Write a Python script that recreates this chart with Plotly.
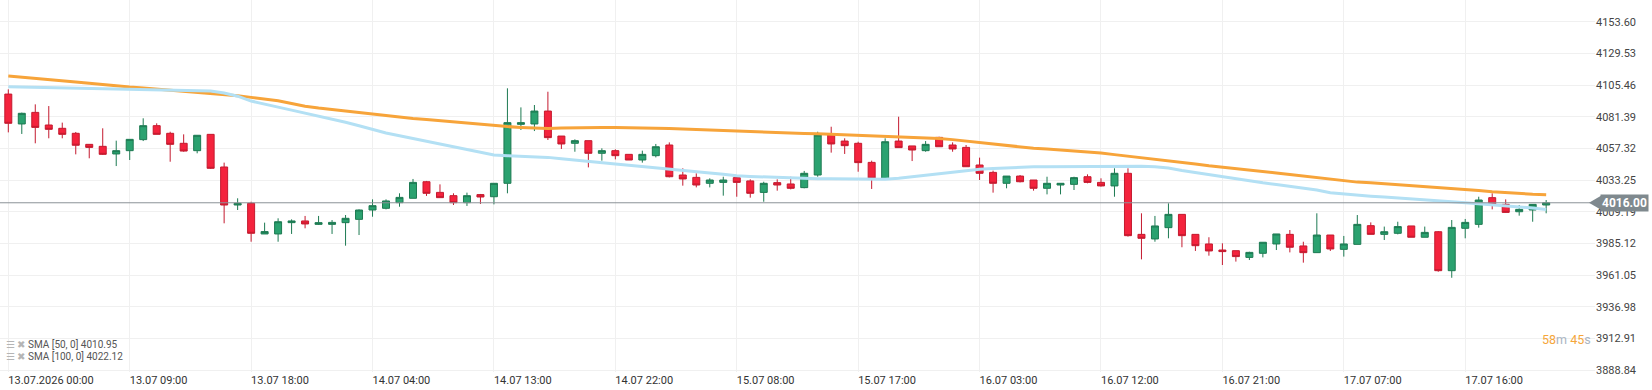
import plotly.graph_objects as go
import pandas as pd

# ---- data ----
open_ = [4098.6, 4075.9, 4084.7, 4075.1, 4072.6, 4068.8, 4060.4, 4058.9, 4053.1, 4055.6,
         4064.0, 4074.6, 4068.8, 4061.2, 4055.6, 4068.0, 4043.2, 4014.3, 4015.6, 3992.3,
         3992.3, 4000.9, 4002.2, 3999.6, 3999.6, 4000.9, 4003.4, 4010.5, 4011.8, 4016.1,
         4019.4, 4032.0, 4023.9, 4021.4, 4016.1, 4022.2, 4020.6, 4030.8, 4075.6, 4075.9,
         4085.7, 4066.7, 4061.2, 4063.2, 4053.6, 4055.6, 4052.8, 4048.5, 4051.8, 4059.9,
         4037.1, 4035.3, 4030.8, 4031.5, 4035.1, 4032.6, 4023.9, 4031.3, 4030.3, 4027.5,
         4037.1, 4067.5, 4062.9, 4061.2, 4046.7, 4034.1, 4062.9, 4059.2, 4055.6, 4065.7,
         4059.9, 4058.1, 4044.7, 4039.1, 4030.8, 4036.3, 4033.3, 4027.0, 4029.5, 4030.0,
         4035.8, 4031.5, 4028.8, 4038.4, 3992.0, 3988.5, 3997.1, 4007.2, 3992.0, 3984.7,
         3980.1, 3979.6, 3974.5, 3977.6, 3984.7, 3992.0, 3983.2, 3978.1, 3991.5, 3980.6,
         3984.4, 3998.6, 3992.0, 3992.8, 3998.4, 3989.8, 3994.0, 3964.4, 3996.6, 3999.6,
         4019.9, 4014.8, 4009.2, 4010.5, 4014.3]
high = [4102.2, 4084.5, 4090.8, 4089.5, 4076.9, 4069.8, 4060.4, 4072.6, 4063.2, 4064.2,
        4080.2, 4076.4, 4070.0, 4068.0, 4067.3, 4068.0, 4046.5, 4019.4, 4016.8, 4000.9,
        4004.2, 4003.4, 4006.0, 4006.0, 4002.9, 4006.7, 4011.0, 4018.6, 4018.6, 4023.2,
        4034.1, 4032.6, 4030.0, 4023.2, 4023.7, 4022.7, 4030.8, 4103.0, 4088.5, 4090.3,
        4100.4, 4066.7, 4064.2, 4063.2, 4057.4, 4056.6, 4052.8, 4055.6, 4060.7, 4061.9,
        4042.2, 4038.4, 4034.6, 4035.8, 4035.8, 4033.8, 4032.0, 4033.8, 4035.8, 4040.2,
        4070.0, 4073.8, 4065.0, 4062.4, 4048.0, 4065.0, 4081.4, 4059.2, 4062.9, 4066.2,
        4061.9, 4059.9, 4050.3, 4040.4, 4036.3, 4037.1, 4033.3, 4035.8, 4030.8, 4035.8,
        4037.6, 4034.6, 4042.2, 4042.2, 4008.0, 4006.0, 4015.6, 4007.2, 3992.0, 3989.8,
        3985.2, 3979.6, 3978.8, 3986.0, 3992.3, 3995.3, 3986.4, 4008.0, 3991.5, 3990.8,
        4006.7, 4001.1, 3997.9, 4001.6, 3998.4, 3997.9, 3994.5, 4002.9, 4003.7, 4020.6,
        4023.2, 4018.6, 4014.3, 4014.8, 4018.1]
low = [4069.5, 4068.3, 4061.2, 4065.0, 4065.0, 4052.8, 4049.8, 4052.3, 4043.9, 4048.5,
       4062.9, 4068.0, 4047.2, 4054.8, 4053.6, 4041.7, 4000.4, 4010.5, 3986.4, 3992.3,
       3986.4, 3992.3, 3996.6, 3999.1, 3992.3, 3983.4, 3991.5, 4005.4, 4011.0, 4013.0,
       4019.4, 4021.2, 4019.9, 4014.3, 4013.6, 4015.1, 4014.8, 4023.2, 4071.3, 4070.5,
       4063.7, 4056.9, 4054.8, 4042.9, 4048.0, 4049.0, 4048.5, 4046.5, 4050.5, 4035.3,
       4029.0, 4027.7, 4027.7, 4021.4, 4020.6, 4019.9, 4016.8, 4025.2, 4026.2, 4027.0,
       4035.8, 4054.1, 4053.1, 4039.6, 4026.5, 4033.3, 4057.9, 4047.7, 4054.8, 4058.6,
       4054.8, 4043.4, 4033.3, 4023.7, 4027.0, 4031.5, 4025.2, 4022.4, 4022.4, 4025.7,
       4030.8, 4028.3, 4020.6, 3990.3, 3973.0, 3986.4, 3989.0, 3982.2, 3979.4, 3975.8,
       3968.7, 3971.3, 3972.5, 3974.5, 3980.1, 3978.3, 3970.5, 3978.1, 3979.4, 3975.1,
       3984.4, 3992.0, 3987.7, 3992.0, 3989.8, 3989.8, 3963.6, 3959.0, 3989.0, 3997.1,
       4011.0, 4008.5, 4006.2, 4001.6, 4008.0]
close = [4076.4, 4084.0, 4073.3, 4071.8, 4068.0, 4059.7, 4058.1, 4052.8, 4055.6, 4064.2,
         4074.6, 4068.0, 4060.4, 4055.3, 4067.3, 4042.2, 4014.3, 4015.6, 3992.8, 3994.1,
         4001.6, 4002.2, 3999.9, 4000.9, 4001.1, 4004.2, 4010.5, 4013.8, 4017.4, 4020.1,
         4031.5, 4023.2, 4019.9, 4016.1, 4021.4, 4020.4, 4030.8, 4076.9, 4076.9, 4085.7,
         4065.5, 4060.7, 4063.2, 4053.6, 4055.6, 4051.8, 4048.5, 4052.8, 4058.6, 4035.8,
         4034.1, 4029.5, 4033.3, 4033.3, 4031.5, 4023.2, 4030.8, 4029.5, 4027.0, 4038.4,
         4067.5, 4060.7, 4059.4, 4046.5, 4034.6, 4062.4, 4057.9, 4056.1, 4060.4, 4058.6,
         4056.9, 4043.4, 4038.4, 4030.8, 4036.3, 4032.0, 4027.0, 4030.8, 4030.8, 4035.1,
         4031.5, 4028.8, 4038.4, 3991.0, 3989.0, 3998.4, 4007.2, 3991.0, 3983.4, 3979.4,
         3978.9, 3975.1, 3978.3, 3986.0, 3992.3, 3982.2, 3978.1, 3991.5, 3980.9, 3984.7,
         3999.6, 3992.0, 3994.0, 3997.9, 3989.8, 3993.5, 3964.4, 3997.3, 4001.1, 4018.1,
         4014.8, 4008.7, 4011.0, 4014.8, 4016.0]
sma50 = [4104.2, 4104.0, 4103.8, 4103.5, 4103.3, 4103.1, 4103.0, 4102.8, 4102.7, 4102.5,
         4102.4, 4102.2, 4102.0, 4101.9, 4101.7, 4101.0, 4099.4, 4097.0, 4093.3, 4090.8,
         4088.7, 4086.4, 4084.2, 4082.1, 4079.8, 4077.2, 4074.5, 4071.7, 4069.0, 4066.9,
         4064.8, 4062.8, 4060.7, 4058.6, 4056.5, 4054.4, 4052.3, 4051.8, 4051.4, 4050.9,
         4050.5, 4049.5, 4048.4, 4047.4, 4046.4, 4045.5, 4044.6, 4043.7, 4042.8, 4041.9,
         4040.8, 4039.8, 4038.7, 4037.6, 4036.5, 4036.0, 4035.6, 4035.2, 4034.9, 4034.6,
         4034.3, 4034.2, 4034.1, 4034.0, 4033.9, 4033.8, 4034.7, 4035.9, 4037.0, 4038.2,
         4039.5, 4040.7, 4041.5, 4042.0, 4042.6, 4043.1, 4043.4, 4043.4, 4043.4, 4043.4,
         4043.4, 4043.6, 4043.7, 4043.9, 4043.7, 4043.3, 4042.4, 4040.6, 4039.0, 4037.3,
         4035.5, 4034.0, 4032.5, 4031.2, 4029.9, 4028.6, 4027.3, 4025.7, 4023.6, 4022.6,
         4021.6, 4021.0, 4020.3, 4019.5, 4018.8, 4018.1, 4017.4, 4016.7, 4016.1, 4015.3,
         4014.7, 4014.0, 4013.0, 4012.0, 4010.95]
sma100 = [4112.3, 4111.5, 4110.6, 4109.8, 4108.8, 4107.8, 4106.8, 4105.7, 4104.6, 4103.9,
          4103.2, 4102.4, 4101.6, 4100.8, 4100.0, 4099.1, 4098.2, 4097.3, 4096.1, 4094.9,
          4093.6, 4091.5, 4089.4, 4088.0, 4086.8, 4085.6, 4084.4, 4083.2, 4082.0, 4080.9,
          4080.0, 4079.2, 4078.3, 4077.3, 4076.3, 4075.3, 4074.4, 4073.9, 4073.3, 4072.8,
          4072.5, 4072.8, 4073.1, 4073.3, 4073.3, 4073.2, 4073.1, 4073.0, 4072.9, 4072.4,
          4072.0, 4071.6, 4071.3, 4070.9, 4070.4, 4069.9, 4069.5, 4069.2, 4068.9, 4068.7,
          4068.5, 4068.1, 4067.8, 4067.4, 4067.1, 4066.7, 4066.3, 4065.8, 4065.3, 4064.8,
          4064.0, 4062.9, 4061.7, 4060.6, 4059.5, 4058.0, 4057.4, 4056.8, 4056.1, 4055.4,
          4054.7, 4053.9, 4052.6, 4051.5, 4050.3, 4049.2, 4048.0, 4046.8, 4045.5, 4044.1,
          4042.9, 4041.9, 4040.9, 4039.8, 4038.6, 4037.5, 4036.4, 4035.3, 4034.2, 4033.0,
          4031.7, 4031.2, 4030.5, 4029.9, 4029.3, 4028.5, 4027.8, 4027.1, 4026.2, 4025.3,
          4024.4, 4023.6, 4023.0, 4022.5, 4022.12]

tick_labels = ["13.07.2026 00:00", "13.07 09:00", "13.07 18:00", "14.07 04:00",
               "14.07 13:00", "14.07 22:00", "15.07 08:00", "15.07 17:00",
               "16.07 03:00", "16.07 12:00", "16.07 21:00", "17.07 07:00", "17.07 16:00"]
y_ticks = [3888.84, 3912.91, 3936.98, 3961.05, 3985.12, 4009.19,
           4033.25, 4057.32, 4081.39, 4105.46, 4129.53, 4153.60]
last_price = 4016.00
sma50_last = 4010.95
sma100_last = 4022.12

# hourly bars, the 23:00 hour is a trading break
times = pd.date_range("2026-07-13 00:00", periods=140, freq="h")
times = [t for t in times if t.hour != 23][:len(close)]
idx = list(range(len(close)))
tick_pos = idx[::9][:len(tick_labels)]

fig = go.Figure()
fig.add_trace(go.Candlestick(
    x=idx, open=open_, high=high, low=low, close=close,
    text=[t.strftime("%d.%m %H:%M") for t in times],
    increasing=dict(fillcolor="#2ba270", line=dict(color="#1d7a52", width=1)),
    decreasing=dict(fillcolor="#f4233d", line=dict(color="#c41a2f", width=1)),
    showlegend=False,
))
fig.add_trace(go.Scatter(x=idx, y=sma100, mode="lines",
                         line=dict(color="#f7a43a", width=3), showlegend=False))
fig.add_trace(go.Scatter(x=idx, y=sma50, mode="lines",
                         line=dict(color="#b3e0f4", width=3), showlegend=False))

fig.add_shape(type="line", xref="paper", x0=0, x1=1, yref="y",
              y0=last_price, y1=last_price, line=dict(color="#8c9398", width=1))
fig.add_shape(type="path", xref="paper", yref="y", xsizemode="pixel", ysizemode="pixel",
              xanchor=1, yanchor=last_price,
              path="M -6,0 L 6,7 L 6,-7 Z", fillcolor="#7f898e", line=dict(width=0))
fig.add_annotation(xref="paper", yref="y", x=1, y=last_price, xanchor="left",
                   xshift=5, text="<b>%.2f</b>" % last_price, showarrow=False,
                   bgcolor="#7f898e", borderpad=1,
                   font=dict(color="white", size=12, family="Roboto"))

fig.add_annotation(xref="paper", yref="paper", x=0, y=1 - 351.5 / 372, xanchor="left",
                   xshift=4, showarrow=False,
                   text="<span style='color:#b5b5b5'>☰ ✖</span> SMA [50, 0] %.2f" % sma50_last,
                   font=dict(color="#555555", size=10, family="Roboto"))
fig.add_annotation(xref="paper", yref="paper", x=0, y=1 - 364 / 372, xanchor="left",
                   xshift=4, showarrow=False,
                   text="<span style='color:#b5b5b5'>☰ ✖</span> SMA [100, 0] %.2f" % sma100_last,
                   font=dict(color="#555555", size=10, family="Roboto"))
fig.add_annotation(xref="paper", yref="paper", x=1, y=1 - 349 / 372, xanchor="right",
                   xshift=-2, showarrow=False,
                   text="<span style='color:#f5a63a'>58</span><span style='color:#a9b4c2'>m</span> "
                        "<span style='color:#f5a63a'>45</span><span style='color:#a9b4c2'>s</span>",
                   font=dict(size=12.5, family="Roboto"))

fig.update_layout(
    width=1652, height=390,
    margin=dict(l=0, r=57, t=0, b=18),
    paper_bgcolor="white", plot_bgcolor="white",
    boxgap=0.26,
    font=dict(family="Roboto"),
    xaxis=dict(range=[-0.615, 117.62], rangeslider=dict(visible=False),
               tickvals=tick_pos, ticktext=tick_labels,
               ticklabelposition="outside right",
               tickfont=dict(size=11, color="#333333"),
               showgrid=True, gridcolor="#f0f0f0", gridwidth=1,
               zeroline=False, showline=False, ticks=""),
    yaxis=dict(side="right", range=[3887.4, 4170.1], tickvals=y_ticks,
               ticktext=["%.2f" % v for v in y_ticks],
               tickfont=dict(size=11, color="#444444"),
               showgrid=True, gridcolor="#f0f0f0", gridwidth=1,
               zeroline=False, showline=False, ticks=""),
)

fig.write_html("out.html")
